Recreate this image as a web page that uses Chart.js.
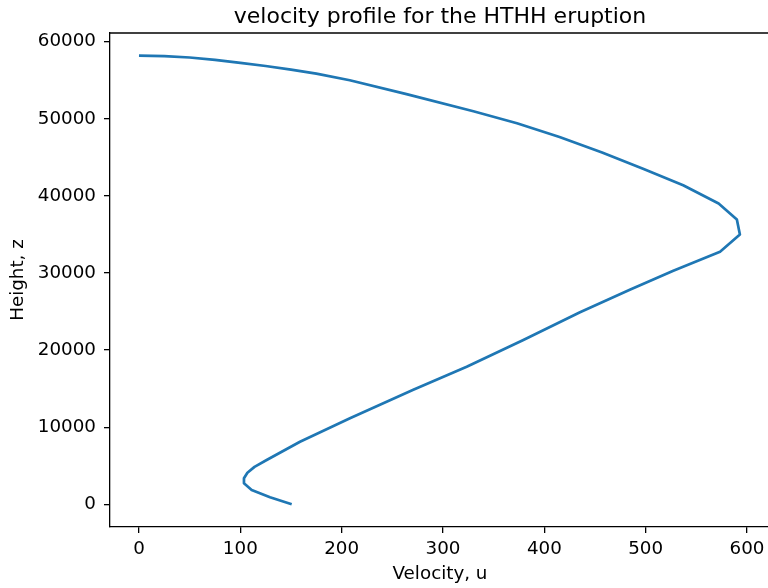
<!DOCTYPE html>
<html>
<head>
<meta charset="utf-8">
<script src="https://cdn.jsdelivr.net/npm/chart.js@4.4.1/dist/chart.umd.min.js"></script>
<style>
  html, body { margin: 0; padding: 0; background: #fff; overflow: hidden; }
  #wrap { width: 768px; height: 588px; overflow: hidden; }
</style>
</head>
<body>
<div id="wrap"><canvas id="grafico" width="770" height="588"></canvas></div>
<script>
// valores (velocidade u, altura z)
const velocidade = [0, 25, 50, 75, 100, 125, 150, 175, 208, 264, 330, 373, 415, 457, 498, 537, 572, 590, 593,
    573.4, 527.3, 484.9, 435.2, 379.3, 323.4, 270.7, 208.2, 158.9, 126, 114, 107, 103.6, 103.6, 111.2, 129.3, 150.7];
const altura = [58200, 58130, 57950, 57650, 57250, 56850, 56380, 55850, 55000, 53200, 50980, 49420, 47650, 45630, 43490, 41390, 39020, 36950, 35000,
    32750, 30300, 27850, 24900, 21300, 17840, 14850, 11150, 8120, 5740, 4850, 4100, 3370, 2720, 1850, 910, 0];
const ticksX = [0, 100, 200, 300, 400, 500, 600];
const ticksY = [0, 10000, 20000, 30000, 40000, 50000, 60000];

const fonte = 'DejaVu Sans';

// borda superior do eixo (estilo matplotlib)
const bordaTopo = {
    id: 'bordaTopo',
    afterDraw(chart) {
        const { ctx, chartArea } = chart;
        ctx.save();
        ctx.strokeStyle = '#000';
        ctx.lineWidth = 1.3;
        ctx.beginPath();
        ctx.moveTo(chartArea.left, chartArea.top);
        ctx.lineTo(chartArea.right + 2, chartArea.top);
        ctx.stroke();
        ctx.restore();
    }
};

const ctx = document.getElementById('grafico');
new Chart(ctx, {
    type: 'line',
    data: {
        datasets: [{
            data: velocidade.map((u, i) => ({ x: u, y: altura[i] })),
            borderColor: '#1f77b4',
            borderWidth: 2.7,
            pointRadius: 0,
            tension: 0,
            borderJoinStyle: 'round',
            fill: false
        }]
    },
    options: {
        responsive: false,
        animation: false,
        layout: { padding: 0 },
        plugins: {
            legend: { display: false },
            tooltip: { enabled: false },
            title: {
                display: true,
                text: 'velocity profile for the HTHH eruption',
                fullSize: false,
                color: '#000',
                font: { family: fonte, size: 22, weight: 'normal' },
                padding: { top: 4, bottom: 2.6 }
            }
        },
        scales: {
            x: {
                type: 'linear',
                min: -28.6,
                max: 622.7,
                afterFit(scale) { scale.height = 61; },
                afterBuildTicks(scale) { scale.ticks = ticksX.map(v => ({ value: v })); },
                ticks: {
                    color: '#000',
                    font: { family: fonte, size: 18.3 },
                    padding: 5,
                    maxRotation: 0,
                    autoSkip: false,
                    callback: v => String(v)
                },
                grid: { drawOnChartArea: false, drawTicks: true, tickLength: 6, color: '#000', lineWidth: 1.3 },
                border: { display: true, color: '#000', width: 1.3 },
                title: {
                    display: true,
                    text: 'Velocity, u',
                    color: '#000',
                    font: { family: fonte, size: 18.3 },
                    padding: { top: 0, bottom: 2.5 }
                }
            },
            y: {
                type: 'linear',
                min: -2944,
                max: 61128,
                afterFit(scale) { scale.width = 110; },
                afterBuildTicks(scale) { scale.ticks = ticksY.map(v => ({ value: v })); },
                ticks: {
                    color: '#000',
                    font: { family: fonte, size: 18.3 },
                    padding: 8,
                    autoSkip: false,
                    callback: v => String(v)
                },
                grid: { drawOnChartArea: false, drawTicks: true, tickLength: 6, color: '#000', lineWidth: 1.3 },
                border: { display: true, color: '#000', width: 1.3 },
                title: {
                    display: true,
                    text: 'Height, z',
                    color: '#000',
                    font: { family: fonte, size: 18.3 },
                    padding: { top: 7.5, bottom: 0 }
                }
            }
        }
    },
    plugins: [bordaTopo]
});
</script>
</body>
</html>
